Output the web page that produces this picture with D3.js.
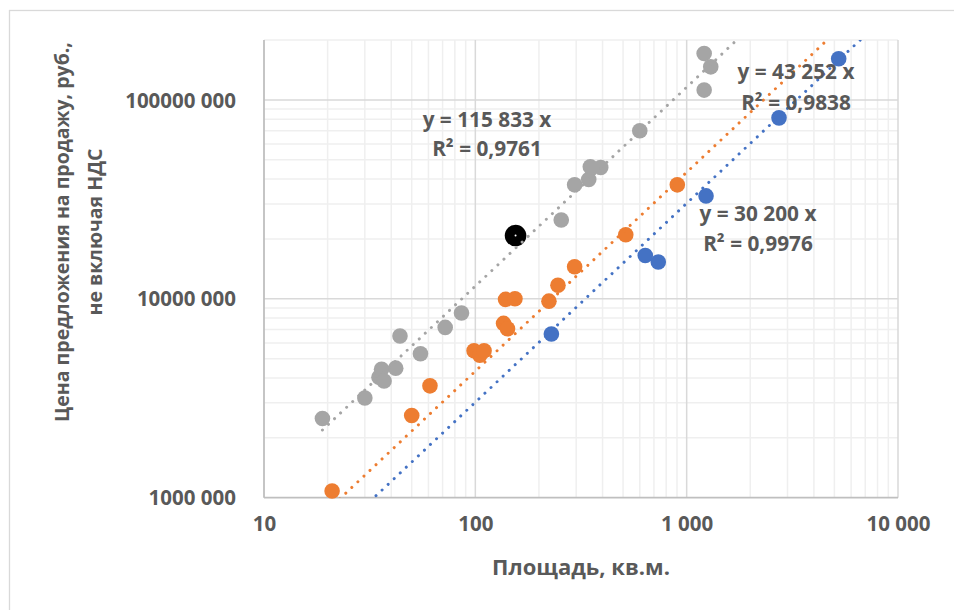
<!DOCTYPE html>
<html>
<head>
<meta charset="utf-8">
<script src="https://cdn.jsdelivr.net/npm/d3@7"></script>
<style>
  html, body { margin: 0; padding: 0; background: #fff; }
  svg { display: block; }
  text { font-family: "Open Sans", "Noto Sans", sans-serif; font-weight: 700; fill: #595959; }
</style>
</head>
<body>
<svg id="chart" width="954" height="610"></svg>
<script>
// ---------- data ----------
const blueX   = [229, 637, 734, 1235, 2735, 5240];
const blueY   = [6.65e6, 1.65e7, 1.53e7, 3.29e7, 8.12e7, 1.61e8];

const orangeX = [21, 50, 61, 98.6, 105, 110, 136, 142, 139, 154, 223, 246, 295, 515, 903];
const orangeY = [1.08e6, 2.59e6, 3.65e6, 5.48e6, 5.21e6, 5.48e6, 7.52e6, 7.07e6, 9.93e6, 1.0e7, 9.73e6, 1.17e7, 1.45e7, 2.1e7, 3.74e7];

const grayX   = [18.9, 30, 35, 36, 37, 42, 44, 55, 72, 86, 255, 295, 344, 350, 392, 600, 1210, 1210, 1300];
const grayY   = [2.5e6, 3.17e6, 4.03e6, 4.42e6, 3.86e6, 4.48e6, 6.5e6, 5.29e6, 7.18e6, 8.48e6, 2.49e7, 3.74e7, 3.98e7, 4.61e7, 4.57e7, 6.99e7, 1.71e8, 1.12e8, 1.466e8];

const blackX  = [155];
const blackY  = [2.08e7];

// trendlines y = k * x
const trendNames  = ["blue", "orange", "gray"];
const trendSlopes = [30200, 43252, 115833];
const trendStartX = [20, 20, 18.9];
const trendEq     = ["y = 30 200 x", "y = 43 252 x", "y = 115 833 x"];
const trendR2     = ["R² = 0,9976", "R² = 0,9838", "R² = 0,9761"];

const xTickValues = [10, 100, 1000, 10000];
const xTickLabels = ["10", "100", "1 000", "10 000"];
const yTickValues = [1e6, 1e7, 1e8];
const yTickLabels = ["1000 000", "10000 000", "100000 000"];

const xTitle = "Площадь, кв.м.";
const yTitle1 = "Цена предложения на продажу, руб.,";
const yTitle2 = "не включая НДС";

// ---------- layout ----------
const colors = { blue: "#4472C4", orange: "#ED7D31", gray: "#A5A5A5", black: "#000000" };
const L = 264, R = 898, T = 40, B = 497.7;

const svg = d3.select("#chart");

// chart border
svg.append("rect").attr("x", 9.5).attr("y", 10.5).attr("width", 960).attr("height", 620)
  .attr("fill", "#fff").attr("stroke", "#d9d9d9").attr("stroke-width", 1.3);

const x = d3.scaleLog().domain([10, 10000]).range([L, R]);
const y = d3.scaleLog().domain([1e6, 2e8]).range([B, T]);

// ---------- gridlines ----------
const minorX = [], majorX = [];
[10, 100, 1000].forEach(d => { for (let m = 2; m <= 9; m++) minorX.push(d * m); });
[100, 1000, 10000].forEach(v => majorX.push(v));
const minorY = [], majorY = [];
[1e6, 1e7].forEach(d => { for (let m = 2; m <= 9; m++) minorY.push(d * m); });
minorY.push(2e8);
[1e7, 1e8].forEach(v => majorY.push(v));

const grid = svg.append("g");
grid.selectAll(".mx").data(minorX).join("line")
  .attr("x1", d => x(d)).attr("x2", d => x(d)).attr("y1", T).attr("y2", B)
  .attr("stroke", "#efefef").attr("stroke-width", 1.5);
grid.selectAll(".my").data(minorY).join("line")
  .attr("y1", d => y(d)).attr("y2", d => y(d)).attr("x1", L).attr("x2", R)
  .attr("stroke", "#efefef").attr("stroke-width", 1.5);
grid.selectAll(".Mx").data(majorX).join("line")
  .attr("x1", d => x(d)).attr("x2", d => x(d)).attr("y1", T).attr("y2", B)
  .attr("stroke", "#d9d9d9").attr("stroke-width", 1.5);
grid.selectAll(".My").data(majorY).join("line")
  .attr("y1", d => y(d)).attr("y2", d => y(d)).attr("x1", L).attr("x2", R)
  .attr("stroke", "#d9d9d9").attr("stroke-width", 1.5);

// axis lines
svg.append("line").attr("x1", L).attr("x2", L).attr("y1", T).attr("y2", B)
  .attr("stroke", "#bfbfbf").attr("stroke-width", 1.8);
svg.append("line").attr("x1", L).attr("x2", R).attr("y1", B).attr("y2", B)
  .attr("stroke", "#bfbfbf").attr("stroke-width", 1.8);

// ---------- axes labels ----------
const xAxis = d3.axisBottom(x).tickValues(xTickValues)
  .tickFormat((d, i) => xTickLabels[i]).tickSize(0).tickPadding(0);
const gx = svg.append("g").attr("transform", `translate(0,${B})`).call(xAxis);
gx.select(".domain").remove();
gx.selectAll("text").attr("dy", null).attr("y", 33).style("font-size", "20.5px")
  .attr("fill", "#595959").style("font-family", "'Open Sans', sans-serif").style("font-weight", 700);

const yAxis = d3.axisLeft(y).tickValues(yTickValues)
  .tickFormat((d, i) => yTickLabels[i]).tickSize(0).tickPadding(0);
const gy = svg.append("g").attr("transform", `translate(${L},0)`).call(yAxis);
gy.select(".domain").remove();
gy.selectAll("text").attr("x", -28).attr("dy", "0.35em").style("font-size", "20.5px")
  .attr("fill", "#595959").style("font-family", "'Open Sans', sans-serif").style("font-weight", 700);

// titles
svg.append("text").attr("x", 581).attr("y", 575).attr("text-anchor", "middle")
  .style("font-size", "22px").text(xTitle);
const yt = svg.append("g").attr("transform", "translate(0,232) rotate(-90)");
yt.append("text").attr("x", 0).attr("y", 69).attr("text-anchor", "middle")
  .style("font-size", "19.5px").text(yTitle1);
yt.append("text").attr("x", 0).attr("y", 102).attr("text-anchor", "middle")
  .style("font-size", "19.5px").text(yTitle2);

// ---------- markers ----------
svg.append("defs").append("clipPath").attr("id", "plotclip")
  .append("rect").attr("x", L).attr("y", T).attr("width", R - L).attr("height", B - T);

const series = [
  { name: "blue",   xs: blueX,   ys: blueY,   r: 7.8 },
  { name: "orange", xs: orangeX, ys: orangeY, r: 7.8 },
  { name: "gray",   xs: grayX,   ys: grayY,   r: 7.8 },
  { name: "black",  xs: blackX,  ys: blackY,  r: 10.8 }
];
const marks = svg.append("g");
series.forEach(s => {
  marks.selectAll(null).data(s.xs.map((v, i) => [v, s.ys[i]])).join("circle")
    .attr("cx", d => x(d[0])).attr("cy", d => y(d[1])).attr("r", s.r)
    .attr("fill", colors[s.name]);
});
// tiny white centre dot on the black marker
marks.selectAll(null).data(blackX.map((v, i) => [v, blackY[i]])).join("circle")
  .attr("cx", d => x(d[0])).attr("cy", d => y(d[1])).attr("r", 1).attr("fill", "#fff");

// ---------- trendlines ----------
const tg = svg.append("g").attr("clip-path", "url(#plotclip)");
trendNames.forEach((n, i) => {
  const k = trendSlopes[i];
  const x0 = trendStartX[i], x1 = 10000;
  tg.append("line")
    .attr("x1", x(x0)).attr("y1", y(k * x0))
    .attr("x2", x(x1)).attr("y2", y(k * x1))
    .attr("stroke", colors[n]).attr("stroke-width", 3)
    .attr("stroke-linecap", "round").attr("stroke-dasharray", "0.01,8.3");
});

// ---------- trend labels ----------
const labelPos = [
  { cx: 758, y1: 221, y2: 251 },   // blue
  { cx: 796, y1: 79,  y2: 110 },   // orange
  { cx: 487, y1: 127, y2: 156 }    // gray
];
trendNames.forEach((n, i) => {
  const p = labelPos[i];
  svg.append("text").attr("x", p.cx).attr("y", p.y1).attr("text-anchor", "middle")
    .style("font-size", "20.8px").text(trendEq[i]);
  svg.append("text").attr("x", p.cx).attr("y", p.y2).attr("text-anchor", "middle")
    .style("font-size", "20.8px").text(trendR2[i]);
});
</script>
</body>
</html>
